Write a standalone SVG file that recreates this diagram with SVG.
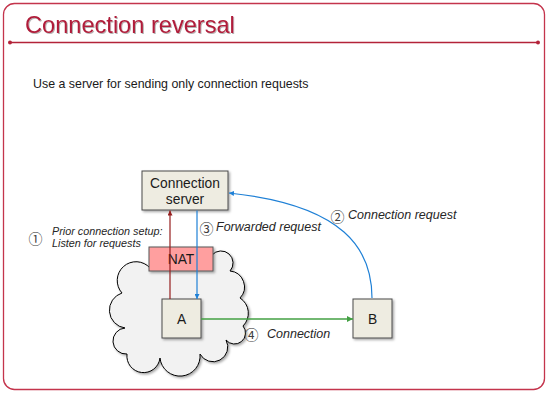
<svg xmlns="http://www.w3.org/2000/svg" width="548" height="394" viewBox="0 0 548 394">
<defs>
<style>
.box{fill:#eeece1;stroke:#4a4a4a;stroke-width:1}
.nat{fill:#ff9f9f;stroke:#595959;stroke-width:1}
.lbl{font-family:"Liberation Sans",Arial,sans-serif;fill:#1a1a1a;text-anchor:middle;font-size:13.8px}
.it{font-family:"Liberation Sans",Arial,sans-serif;font-style:italic;fill:#262626}
.num{font-family:"Noto Sans CJK JP",sans-serif;fill:#404040;text-anchor:middle;font-size:14px}
.red{stroke:#951e1e;stroke-width:1.2;fill:none}
.blue{stroke:#1f80d6;stroke-width:1.2;fill:none}
.green{stroke:#43a043;stroke-width:1.5;fill:none}
</style>
<filter id="sh" x="-20%" y="-20%" width="150%" height="150%">
<feDropShadow dx="1.5" dy="1.5" stdDeviation="1" flood-color="#000" flood-opacity="0.35"/>
</filter>
<filter id="tsh" x="-5%" y="-20%" width="110%" height="150%">
<feDropShadow dx="1" dy="1" stdDeviation="0.6" flood-color="#000" flood-opacity="0.3"/>
</filter>
<marker id="ar" viewBox="0 0 10 10" refX="10" refY="5" markerWidth="5" markerHeight="5" orient="auto" markerUnits="userSpaceOnUse">
<path d="M0,0 L10,5 L0,10 z" fill="#951e1e"/>
</marker>
<marker id="ab" viewBox="0 0 10 10" refX="10" refY="5" markerWidth="5" markerHeight="5" orient="auto" markerUnits="userSpaceOnUse">
<path d="M0,0 L10,5 L0,10 z" fill="#1f80d6"/>
</marker>
<marker id="ag" viewBox="0 0 10 10" refX="10" refY="5" markerWidth="6" markerHeight="6" orient="auto" markerUnits="userSpaceOnUse">
<path d="M0,0 L10,5 L0,10 z" fill="#43a043"/>
</marker>
</defs>
<rect x="0" y="0" width="548" height="394" fill="#fff"/>
<g id="frame">
<rect x="3.5" y="3.5" width="541" height="386" rx="11" fill="none" stroke="#c4344c" stroke-width="1.3"/>
<line x1="10" y1="42.5" x2="538" y2="42.5" stroke="#b32339" stroke-width="1.5"/>
<circle cx="10" cy="42.5" r="2" fill="#b32339"/>
<circle cx="538" cy="42.5" r="2" fill="#b32339"/>
<text x="25" y="33" font-family="'Liberation Sans',Arial,sans-serif" font-size="23.6" fill="#b01e3a" filter="url(#tsh)">Connection reversal</text>
<text x="33" y="88" font-family="'Liberation Sans',Arial,sans-serif" font-size="12.4" fill="#1a1a1a">Use a server for sending only connection requests</text>
</g>
<g id="cloud">
<path filter="url(#sh)" fill="#f2f2f2" stroke="#000" stroke-width="1" d="M212,255 A12,12 0 0 1 230,271 A16,16 0 0 1 240,298 A18,18 0 0 1 243,326 A1,1 0 0 1 226,340 A1,1 0 0 1 200,354 A1,1 0 0 1 160,358 A1,1 0 0 1 127,354 A1,1 0 0 1 125,328 A18,18 0 0 1 122,293 A1,1 0 0 1 150,268 Z"/>
</g>
<g id="server">
<rect class="box" x="142" y="171" width="86" height="39" filter="url(#sh)"/>
<text class="lbl" x="185" y="188">Connection</text>
<text class="lbl" x="185" y="204">server</text>
</g>
<g id="nat">
<rect class="nat" x="149" y="247" width="64" height="24" filter="url(#sh)"/>
<text class="lbl" x="181" y="264">NAT</text>
</g>
<g id="nodeA">
<rect class="box" x="162" y="299" width="39" height="39" filter="url(#sh)"/>
<text class="lbl" x="181.5" y="323.5">A</text>
</g>
<g id="nodeB">
<rect class="box" x="353" y="299" width="39" height="39" filter="url(#sh)"/>
<text class="lbl" x="372.5" y="323.5">B</text>
</g>
<g id="connectors">
<line class="red" x1="170" y1="299" x2="170" y2="210.5" marker-end="url(#ar)"/>
<line class="blue" x1="197" y1="210.5" x2="197" y2="299" marker-end="url(#ab)"/>
<path class="blue" d="M372,298 C372,250 345,205 229,193" marker-end="url(#ab)"/>
<line class="green" x1="201" y1="319" x2="353" y2="319" marker-end="url(#ag)"/>
</g>
<g id="labels">
<text class="num" x="35.5" y="243.5">①</text>
<text class="it" x="52" y="235" font-size="10.8">Prior connection setup:</text>
<text class="it" x="52" y="247" font-size="10.8">Listen for requests</text>
<text class="num" x="337.5" y="221.5">②</text>
<text class="it" x="348" y="219" font-size="12.5">Connection request</text>
<text class="num" x="206.5" y="233.5">③</text>
<text class="it" x="216" y="231" font-size="12.5">Forwarded request</text>
<text class="num" x="251.5" y="340">④</text>
<text class="it" x="267" y="338" font-size="12.5">Connection</text>
</g>
</svg>
